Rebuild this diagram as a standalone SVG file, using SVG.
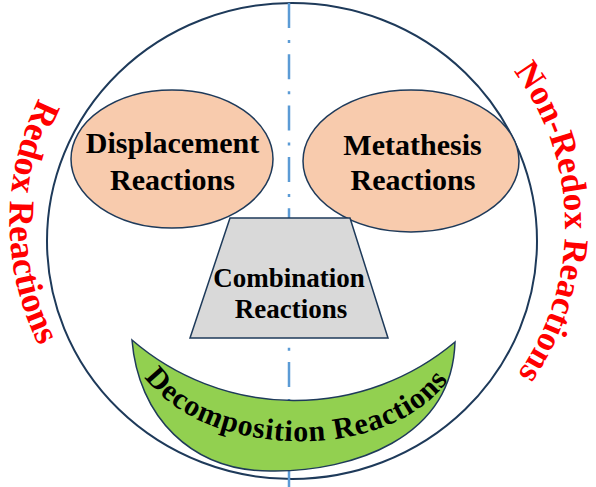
<svg xmlns="http://www.w3.org/2000/svg" width="596" height="487" viewBox="0 0 596 487">
<defs>
<style>
.edge{fill:none;stroke:#1E3A5A;stroke-width:2}
.shape{stroke:#1E3A5A;stroke-width:1.5}
.lbl{font-family:"Liberation Serif","Times New Roman",serif;font-weight:bold;fill:#000;text-anchor:middle}
.red{font-family:"Liberation Serif","Times New Roman",serif;font-weight:bold;fill:#FF0000;text-anchor:middle}
</style>
<path id="leftArc" d="M49,80 A275,275 0 0 0 49,364"/>
<path id="rightArc" d="M513,70.5 A257,257 0 0 1 517,375"/>
<path id="smileArc" d="M145,378 C206,460 389,464 448,380"/>
</defs>
<rect width="596" height="487" fill="#fff"/>
<g id="face">
<ellipse class="edge" cx="292" cy="241" rx="245" ry="238"/>
</g>
<g id="connectors">
<line x1="289" y1="3" x2="289" y2="487" stroke="#5B9BD5" stroke-width="2.5" stroke-dasharray="25 12 3 11.3"/>
</g>
<g id="displacement">
<ellipse class="shape" cx="172" cy="159" rx="101" ry="69" fill="#F8CBAD"/>
<text class="lbl" font-size="30" x="172.5" y="153">Displacement</text>
<text class="lbl" font-size="30" x="172.5" y="190">Reactions</text>
</g>
<g id="metathesis">
<ellipse class="shape" cx="411" cy="161" rx="108" ry="71" fill="#F8CBAD"/>
<text class="lbl" font-size="30" x="412.5" y="155">Metathesis</text>
<text class="lbl" font-size="30" x="413" y="190">Reactions</text>
</g>
<g id="combination">
<polygon class="shape" points="230,218 350,218 388,338 190,338" fill="#D9D9D9"/>
<text class="lbl" font-size="27" x="289" y="287">Combination</text>
<text class="lbl" font-size="27" x="291" y="318">Reactions</text>
</g>
<g id="decomposition">
<path class="shape" d="M132,340 A249,249 0 0 0 455,342 C452,440 350,471 275,471 C190,473 138,415 132,340 Z" fill="#92D050"/>
<text class="lbl" font-size="30" letter-spacing="0.8"><textPath href="#smileArc" startOffset="50%">Decomposition Reactions</textPath></text>
</g>
<g id="redox">
<text class="red" font-size="36"><textPath href="#leftArc" startOffset="50%">Redox Reactions</textPath></text>
</g>
<g id="nonredox">
<text class="red" font-size="35"><textPath href="#rightArc" startOffset="50%">Non-Redox Reactions</textPath></text>
</g>
</svg>
